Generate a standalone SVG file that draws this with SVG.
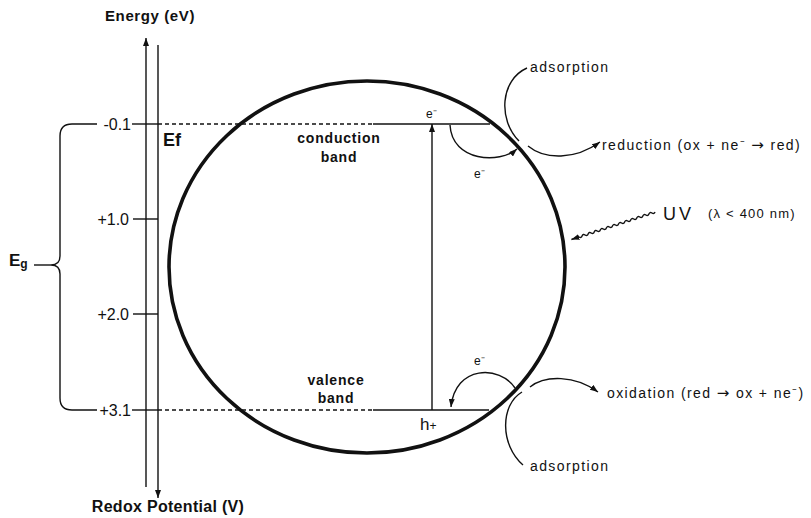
<svg xmlns="http://www.w3.org/2000/svg" width="811" height="518" viewBox="0 0 811 518">
<style>
.ln{stroke:#111;stroke-width:1.4;fill:none}
.dash{stroke:#111;stroke-width:1.4;stroke-dasharray:4 3;fill:none}
.t{font-family:"Liberation Sans",Arial,sans-serif;fill:#111}
.b{font-weight:bold}
.tick{font-size:16px;text-anchor:end}
.lbl{font-size:14px;letter-spacing:1.4px}
.small{font-size:12px}
.arr{font-family:"DejaVu Sans",sans-serif;font-size:15px}
</style>
<defs>
<marker id="ah" viewBox="0 0 8 6" refX="8" refY="3" markerWidth="8" markerHeight="6" markerUnits="userSpaceOnUse" orient="auto">
<path d="M0,0 L8,3 L0,6 z" fill="#111"/>
</marker>
</defs>
<rect width="811" height="518" fill="#fff"/>

<g id="connectors">
<line class="ln" x1="146" y1="487" x2="146" y2="38" marker-end="url(#ah)"/>
<line class="ln" x1="158" y1="45" x2="158" y2="498" marker-end="url(#ah)"/>
<line class="ln" x1="132" y1="124" x2="158" y2="124"/>
<line class="ln" x1="133" y1="219" x2="158" y2="219"/>
<line class="ln" x1="133" y1="314" x2="158" y2="314"/>
<line class="ln" x1="132" y1="410" x2="158" y2="410"/>
<line class="dash" x1="158" y1="124" x2="373" y2="124"/>
<line class="ln" x1="373" y1="124" x2="490" y2="124"/>
<line class="dash" x1="158" y1="410" x2="373" y2="410"/>
<line class="ln" x1="373" y1="410" x2="489" y2="410"/>
<path class="ln" d="M97,124 L72,124 Q60,124 60,136 L60,256 Q60,265 51,265 Q60,265 60,274 L60,398 Q60,410 72,410 L97,410"/>
<line class="ln" x1="34" y1="265" x2="51" y2="265"/>
<line class="ln" x1="432" y1="410" x2="432" y2="124" marker-end="url(#ah)"/>
<path class="ln" d="M450,125 C452,162 500,164 517,149" marker-end="url(#ah)"/>
<path class="ln" d="M527,68 C500,80 498,120 519,141"/>
<path class="ln" d="M528,146 C545,160 575,160 600,142" marker-end="url(#ah)"/>
<path class="ln" d="M515,388 C500,365 455,365 451,407" marker-end="url(#ah)"/>
<path class="ln" d="M530,387 C545,375 575,375 598,392" marker-end="url(#ah)"/>
<path class="ln" d="M522,392 C500,405 500,445 523,465"/>
<g transform="translate(655,212) rotate(161.8)">
<path class="ln" d="M0,0 q1.6,-2 3.2,0 t3.2,0 t3.2,0 t3.2,0 t3.2,0 t3.2,0 t3.2,0 t3.2,0 t3.2,0 t3.2,0 t3.2,0 t3.2,0 t3.2,0 t3.2,0 t3.2,0 t3.2,0 t3.2,0 t3.2,0 t3.2,0 t3.2,0 t3.2,0 t3.2,0 t3.2,0 t3.2,0 t3.2,0 t3.2,0 L88,0" marker-end="url(#ah)"/>
</g>
</g>

<g id="particle">
<ellipse cx="367" cy="267" rx="198" ry="186" fill="none" stroke="#111" stroke-width="3.6"/>
</g>

<g id="axis-labels">
<text class="t b" x="150" y="21" font-size="15" text-anchor="middle" letter-spacing="0.6">Energy (eV)</text>
<text class="t b" x="168" y="512" font-size="16" text-anchor="middle" letter-spacing="0.3">Redox Potential (V)</text>
<text class="t b" x="163" y="146" font-size="18">Ef</text>
<text class="t tick" x="131" y="130">-0.1</text>
<text class="t tick" x="129" y="225">+1.0</text>
<text class="t tick" x="129" y="320">+2.0</text>
<text class="t tick" x="131" y="416">+3.1</text>
<text class="t b" x="9" y="266" font-size="17">E<tspan font-size="12" dy="2">g</tspan></text>
</g>

<g id="conduction-band">
<text class="t b" x="339" y="143" font-size="14" text-anchor="middle" letter-spacing="0.8">conduction</text>
<text class="t b" x="339" y="162" font-size="14" text-anchor="middle" letter-spacing="0.8">band</text>
<text class="t small" x="426" y="118">e⁻</text>
<text class="t small" x="474" y="178">e⁻</text>
</g>

<g id="valence-band">
<text class="t b" x="336" y="385" font-size="14" text-anchor="middle" letter-spacing="0.8">valence</text>
<text class="t b" x="336" y="403" font-size="14" text-anchor="middle" letter-spacing="0.8">band</text>
<text class="t small" x="474" y="365">e⁻</text>
<text class="t" x="420" y="430" font-size="17">h<tspan font-size="12">+</tspan></text>
</g>

<g id="reduction">
<text class="t lbl" x="530" y="72" font-size="13">adsorption</text>
<text class="t lbl" x="602" y="150">reduction (ox + ne⁻ <tspan class="arr">→</tspan> red)</text>
</g>

<g id="uv">
<text class="t" x="663" y="220" font-size="18" letter-spacing="3">UV</text>
<text class="t" x="708" y="218" font-size="13" letter-spacing="1.2">(λ &lt; 400 nm)</text>
</g>

<g id="oxidation">
<text class="t lbl" x="607" y="398">oxidation (red <tspan class="arr">→</tspan> ox + ne⁻)</text>
<text class="t lbl" x="530" y="471" font-size="13">adsorption</text>
</g>
</svg>
